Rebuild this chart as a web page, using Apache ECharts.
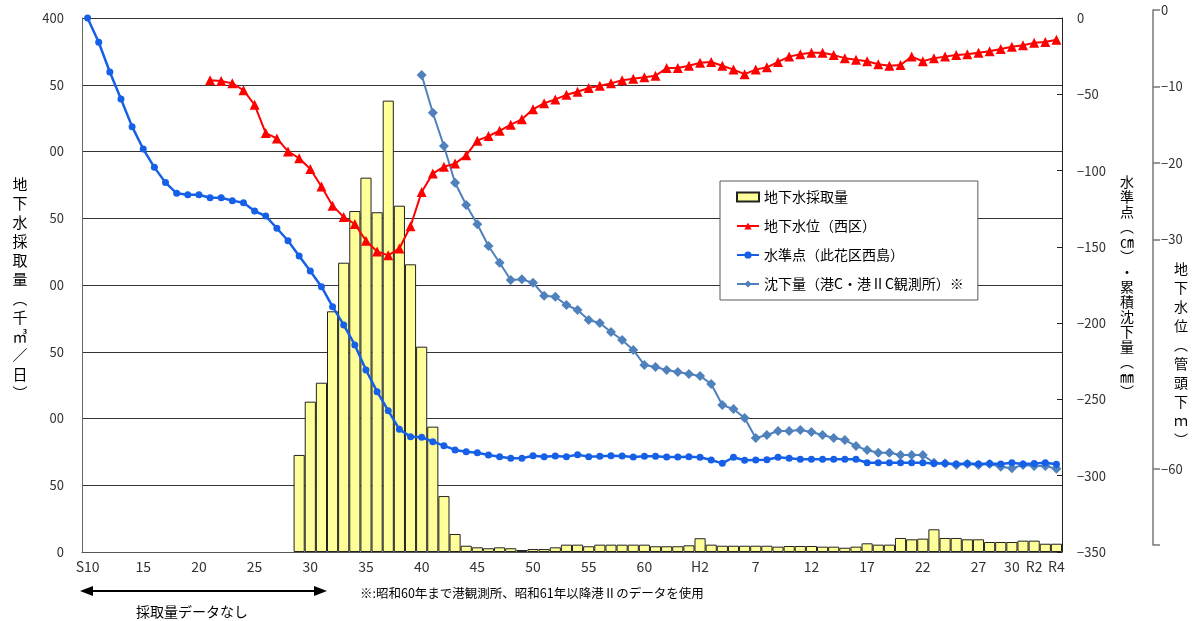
<!DOCTYPE html>
<html>
<head>
<meta charset="utf-8">
<script src="https://cdn.jsdelivr.net/npm/echarts@6/dist/echarts.min.js"></script>
<style>html,body{margin:0;padding:0;background:#fff;}#c{width:1198px;height:621px;}</style>
</head>
<body>
<div id="c"></div>
<script>
// ---- categories (S10 = 1935 ... R4 = 2022) ----
const categories = [
 'S10','S11','S12','S13','S14','S15','S16','S17','S18','S19',
 'S20','S21','S22','S23','S24','S25','S26','S27','S28','S29',
 'S30','S31','S32','S33','S34','S35','S36','S37','S38','S39',
 'S40','S41','S42','S43','S44','S45','S46','S47','S48','S49',
 'S50','S51','S52','S53','S54','S55','S56','S57','S58','S59',
 'S60','S61','S62','S63','H1','H2','H3','H4','H5','H6',
 'H7','H8','H9','H10','H11','H12','H13','H14','H15','H16',
 'H17','H18','H19','H20','H21','H22','H23','H24','H25','H26',
 'H27','H28','H29','H30','R1','R2','R3','R4'
];
// ---- x tick labels ----
const tickCats  = ['S10','S15','S20','S25','S30','S35','S40','S45','S50','S55','S60','H2','H7','H12','H17','H22','H27','H30','R2','R4'];
const tickTexts = ['S10','15','20','25','30','35','40','45','50','55','60','H2','7','12','17','22','27','30','R2','R4'];

// ---- 地下水採取量 (千㎥/日) ----
const pumping = [
 null,null,null,null,null,null,null,null,null,null,
 null,null,null,null,null,null,null,null,null,72.7,
 112.6,126.8,180.3,216.7,255.4,280.4,254.5,338.1,259.4,215.5,
 153.8,93.9,41.9,13.5,4.7,3.5,2.8,3.5,2.8,1.5,
 2.2,2.2,3.5,5.5,5.5,4.3,5.5,5.5,5.5,5.5,
 5.5,4.3,4.3,4.3,5.0,10.3,5.5,4.7,4.7,4.7,
 4.7,4.7,4.0,4.5,4.5,4.5,4.0,4.0,3.2,4.0,
 6.5,5.5,5.5,10.5,9.5,10.0,17.0,10.5,10.5,9.5,
 9.5,7.5,7.5,7.5,8.5,8.5,6.2,6.2
];
// ---- 地下水位(西区) (管頭下 m) ----
const gwLevel = [
 null,null,null,null,null,null,null,null,null,null,
 null,-9.2,-9.3,-9.6,-10.5,-12.4,-16.1,-16.8,-18.5,-19.4,
 -20.8,-23.1,-25.6,-27.1,-28.0,-30.2,-31.6,-32.1,-31.2,-28.3,
 -23.8,-21.4,-20.5,-20.1,-19.0,-17.1,-16.5,-15.8,-15.0,-14.3,
 -13.0,-12.2,-11.7,-11.1,-10.7,-10.2,-9.9,-9.6,-9.2,-9.0,
 -8.8,-8.6,-7.6,-7.6,-7.3,-6.9,-6.8,-7.3,-7.8,-8.4,
 -7.8,-7.5,-6.8,-6.1,-5.8,-5.6,-5.6,-5.9,-6.3,-6.5,
 -6.7,-7.1,-7.3,-7.2,-6.1,-6.7,-6.3,-6.1,-5.9,-5.8,
 -5.6,-5.4,-5.1,-4.8,-4.6,-4.3,-4.2,-3.9
];
// ---- 水準点(此花区西島) (cm) ----
const benchmark = [
 0,-15.9,-35.4,-53.1,-71.2,-85.9,-97.9,-107.9,-114.9,-115.8,
 -115.8,-117.8,-117.8,-119.7,-121.1,-126.5,-129.8,-137.8,-146.0,-156.0,
 -165.8,-176.1,-189.2,-201.2,-214.3,-230.7,-244.9,-257.4,-269.6,-274.4,
 -274.8,-277.7,-280.3,-283.1,-284.3,-284.9,-286.4,-287.5,-288.6,-288.6,
 -286.9,-287.5,-287.1,-287.5,-286.2,-287.5,-287.3,-286.9,-287.1,-287.7,
 -287.3,-287.3,-287.7,-287.7,-287.5,-287.9,-289.7,-291.9,-287.9,-289.9,
 -289.7,-289.5,-287.9,-288.6,-289.2,-289.2,-289.2,-289.2,-289.2,-289.2,
 -291.5,-291.5,-291.5,-291.5,-291.5,-291.5,-292.0,-292.0,-292.3,-292.0,
 -292.3,-292.0,-292.3,-291.5,-292.3,-292.0,-291.5,-292.5
];
// ---- 沈下量(港C・港ⅡC観測所) (mm) ----
const subsidence = [
 null,null,null,null,null,null,null,null,null,null,
 null,null,null,null,null,null,null,null,null,null,
 null,null,null,null,null,null,null,null,null,null,
 -37.4,-62.1,-83.9,-108.0,-122.6,-135.2,-149.4,-160.4,-171.7,-171.3,
 -173.5,-182.0,-182.7,-188.1,-191.4,-197.9,-199.9,-205.8,-211.0,-217.6,
 -227.4,-228.7,-230.7,-232.0,-233.3,-234.6,-239.9,-253.7,-256.3,-262.2,
 -275.3,-273.3,-270.7,-270.7,-270.0,-271.3,-273.3,-275.3,-276.6,-280.5,
 -283.2,-284.9,-284.9,-286.4,-286.4,-286.4,-291.5,-291.9,-293.0,-292.3,
 -293.0,-292.3,-294.1,-295.1,-293.0,-293.6,-293.6,-295.4
];

const seriesNames = ['地下水採取量','地下水位（西区）','水準点（此花区西島）','沈下量（港C・港ⅡC観測所）※'];
const leftTitle = '地下水採取量︵千㎥／日︶';
const rightTitle1 = '水準点︵㎝︶・累積沈下量︵㎜︶';
const rightTitle2 = '地下水位︵管頭下ｍ︶';
const arrowNote = '採取量データなし';
const footNote = '※:昭和60年まで港観測所、昭和61年以降港Ⅱのデータを使用';

const FONT = "'Noto Sans CJK JP', 'Noto Sans', sans-serif";
const vert = s => Array.from(s).join('\n');
const minus = v => v === 0 ? '0' : '\u2212' + Math.abs(v);
const showTick = (i, v) => tickCats.indexOf(v) >= 0;

const chart = echarts.init(document.getElementById('c'), null, {renderer: 'canvas'});
chart.setOption({
  animation: false,
  backgroundColor: '#fff',
  textStyle: {fontFamily: FONT},
  grid: [
    {left: 82, right: 136, top: 18, bottom: 69},
    {left: 82, right: 136, top: 10, bottom: 76}
  ],
  legend: {
    orient: 'vertical', left: 720, top: 181,
    padding: [9, 14, 9, 16], itemGap: 15, itemWidth: 22, itemHeight: 9,
    borderColor: '#595959', borderWidth: 1, backgroundColor: '#fff',
    textStyle: {fontSize: 14, color: '#000', fontFamily: FONT},
    data: [{name: seriesNames[0], icon: 'rect'}, seriesNames[1], seriesNames[2], seriesNames[3]]
  },
  xAxis: [
    {
      type: 'category', gridIndex: 0, data: categories, boundaryGap: true,
      axisLine: {lineStyle: {color: '#555'}},
      axisTick: {inside: true, length: 4, interval: showTick, lineStyle: {color: '#555'}},
      axisLabel: {interval: showTick, margin: 8, fontSize: 14, color: '#333',
        formatter: v => tickTexts[tickCats.indexOf(v)]}
    },
    {type: 'category', gridIndex: 1, data: categories, boundaryGap: true, show: false}
  ],
  yAxis: [
    {
      type: 'value', gridIndex: 0, min: 0, max: 400, interval: 50, position: 'left',
      axisLine: {show: true, lineStyle: {color: '#666'}},
      axisTick: {show: false},
      axisLabel: {margin: 18, fontSize: 13, color: '#333',
        formatter: v => v === 400 ? '400' : (v === 0 ? '0' : String(v).slice(-2))},
      splitLine: {show: true, lineStyle: {color: '#333', width: 1}}
    },
    {
      type: 'value', gridIndex: 0, min: -350, max: 0, interval: 50, position: 'right',
      axisLine: {show: true, lineStyle: {color: '#222'}},
      axisTick: {show: true, inside: true, length: 5, lineStyle: {color: '#222'}},
      axisLabel: {margin: 15, fontSize: 13, color: '#333', formatter: minus},
      splitLine: {show: false}
    },
    {
      type: 'value', gridIndex: 1, min: -70, max: 0, interval: 10, position: 'right', offset: 91,
      axisLine: {show: true, lineStyle: {color: '#777', width: 1.5}},
      axisTick: {show: true, length: 7, lineStyle: {color: '#777', width: 1.5},
        customValues: [0, -10, -20, -30, -60, -70]},
      axisLabel: {margin: 8, fontSize: 13, color: '#333',
        formatter: v => ([-40, -50, -70].indexOf(v) >= 0 ? '' : minus(v))},
      splitLine: {show: false}
    }
  ],
  series: [
    {
      name: seriesNames[0], type: 'bar', xAxisIndex: 0, yAxisIndex: 0, data: pumping,
      barCategoryGap: '0%',
      itemStyle: {color: '#FFFF99', borderColor: '#222', borderWidth: 1}
    },
    {
      name: seriesNames[3], type: 'line', xAxisIndex: 0, yAxisIndex: 1, data: subsidence,
      symbol: 'diamond', symbolSize: 10, showAllSymbol: true,
      lineStyle: {color: '#4F81BD', width: 2}, itemStyle: {color: '#4F81BD'}, z: 3
    },
    {
      name: seriesNames[2], type: 'line', xAxisIndex: 0, yAxisIndex: 1, data: benchmark,
      symbol: 'circle', symbolSize: 7, showAllSymbol: true,
      lineStyle: {color: '#1560E6', width: 2.5}, itemStyle: {color: '#1560E6'}, z: 4
    },
    {
      name: seriesNames[1], type: 'line', xAxisIndex: 1, yAxisIndex: 2, data: gwLevel,
      symbol: 'triangle', symbolSize: 10, showAllSymbol: true,
      lineStyle: {color: '#FF0000', width: 2}, itemStyle: {color: '#FF0000'}, z: 5
    }
  ],
  graphic: [
    {type: 'text', x: 20, y: 175, style: {text: vert(leftTitle), fontSize: 15, lineHeight: 19,
      fill: '#000', textAlign: 'center', textVerticalAlign: 'top', fontFamily: FONT}},
    {type: 'text', x: 1127, y: 174, style: {text: vert(rightTitle1), fontSize: 14, lineHeight: 15,
      fill: '#000', textAlign: 'center', textVerticalAlign: 'top', fontFamily: FONT}},
    {type: 'text', x: 1181, y: 259, style: {text: vert(rightTitle2), fontSize: 14, lineHeight: 19,
      fill: '#000', textAlign: 'center', textVerticalAlign: 'top', fontFamily: FONT}},
    {type: 'line', shape: {x1: 88, y1: 591, x2: 319, y2: 591}, style: {stroke: '#000', lineWidth: 2}},
    {type: 'polygon', shape: {points: [[80, 591], [93, 586], [93, 596]]}, style: {fill: '#000'}},
    {type: 'polygon', shape: {points: [[327, 591], [314, 586], [314, 596]]}, style: {fill: '#000'}},
    {type: 'text', x: 192, y: 612, style: {text: arrowNote, fontSize: 14, fill: '#000',
      textAlign: 'center', textVerticalAlign: 'middle', fontFamily: FONT}},
    {type: 'text', x: 360, y: 593, style: {text: footNote, fontSize: 12.5, fill: '#000',
      textAlign: 'left', textVerticalAlign: 'middle', fontFamily: FONT}}
  ]
});
</script>
</body>
</html>
